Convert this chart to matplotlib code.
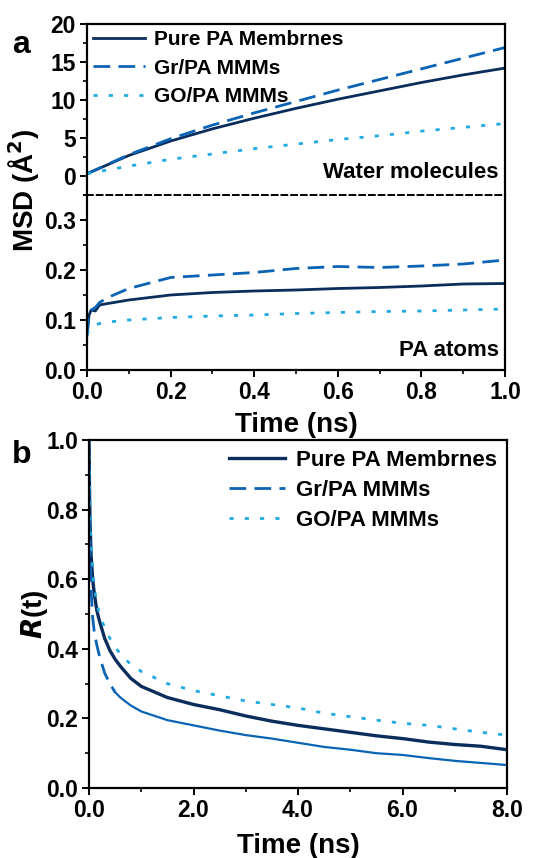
import numpy as np
import matplotlib
matplotlib.use('Agg')
import matplotlib.pyplot as plt
from matplotlib.ticker import MultipleLocator, FormatStrFormatter

plt.rcParams['font.family'] = ['Liberation Sans', 'DejaVu Sans']
plt.rcParams['font.weight'] = 'bold'

# panel a, water molecules MSD
t_w = [0.0, 0.1, 0.2, 0.3, 0.4, 0.5, 0.6, 0.7, 0.8, 0.9, 1.0]
pure_w = [0.3, 2.7, 4.6, 6.2, 7.6, 8.9, 10.1, 11.2, 12.3, 13.3, 14.2]
gr_w = [0.3, 2.8, 4.9, 6.7, 8.3, 9.8, 11.3, 12.7, 14.1, 15.5, 16.9]
go_w = [0.3, 1.3, 2.2, 2.9, 3.6, 4.2, 4.8, 5.3, 5.9, 6.4, 6.9]

# panel a, PA atoms MSD
t_pa = [0.0, 0.005, 0.01, 0.02, 0.03, 0.05, 0.1, 0.2, 0.3, 0.4, 0.5, 0.6, 0.7, 0.8, 0.9, 1.0]
pure_pa = [0.07, 0.11, 0.12, 0.118, 0.13, 0.133, 0.14, 0.15, 0.155, 0.158, 0.16, 0.163, 0.165, 0.168, 0.172, 0.173]
gr_pa = [0.07, 0.11, 0.12, 0.125, 0.135, 0.145, 0.163, 0.185, 0.19, 0.195, 0.203, 0.207, 0.205, 0.208, 0.212, 0.22]
go_pa = [0.07, 0.08, 0.085, 0.09, 0.093, 0.096, 0.10, 0.105, 0.108, 0.11, 0.113, 0.115, 0.117, 0.118, 0.12, 0.122]

# panel b, R(t)
t_r = [0.0, 0.01, 0.02, 0.04, 0.07, 0.1, 0.15, 0.2, 0.3, 0.4, 0.5, 0.6, 0.8, 1.0, 1.5, 2.0, 2.5, 3.0, 3.5,
       4.0, 4.5, 5.0, 5.5, 6.0, 6.5, 7.0, 7.5, 8.0]
pure_r = [1.0, 0.85, 0.76, 0.67, 0.6, 0.56, 0.51, 0.48, 0.43, 0.395, 0.37, 0.35, 0.315, 0.292, 0.26, 0.24,
          0.225, 0.207, 0.192, 0.18, 0.17, 0.16, 0.15, 0.142, 0.132, 0.125, 0.12, 0.11]
gr_r = [1.0, 0.8, 0.68, 0.57, 0.49, 0.45, 0.41, 0.38, 0.33, 0.3, 0.275, 0.26, 0.237, 0.22, 0.195, 0.18,
        0.165, 0.152, 0.142, 0.13, 0.118, 0.11, 0.10, 0.095, 0.086, 0.078, 0.072, 0.066]
go_r = [1.0, 0.9, 0.8, 0.7, 0.62, 0.58, 0.53, 0.5, 0.46, 0.43, 0.405, 0.385, 0.355, 0.335, 0.3, 0.28,
        0.265, 0.25, 0.24, 0.23, 0.215, 0.205, 0.195, 0.186, 0.18, 0.17, 0.16, 0.152]

labels = ['Pure PA Membrnes', 'Gr/PA MMMs', 'GO/PA MMMs']
c_pure = '#0b2d5c'
c_gr = '#0a63b5'
c_go = '#22aae2'

fig = plt.figure(figsize=(5.38, 8.58), dpi=100)
W, H = 538.0, 858.0

def box(l, t, r, b):
    return [l / W, 1 - b / H, (r - l) / W, (b - t) / H]

ax1 = fig.add_axes(box(87, 24, 505, 195))
ax2 = fig.add_axes(box(87, 195, 505, 370))
ax3 = fig.add_axes(box(89, 440, 507, 788))

def style(ax):
    for s in ax.spines.values():
        s.set_linewidth(1.6)
    ax.tick_params(which='major', direction='out', length=5, width=1.4, labelsize=16.5,
                   top=False, right=False, pad=3)
    ax.tick_params(which='minor', direction='out', length=3, width=1.2, top=False, right=False)
    for lab in ax.get_xticklabels() + ax.get_yticklabels():
        lab.set_fontweight('bold')

# upper part
ax1.plot(t_w, pure_w, color=c_pure, lw=2.0, label=labels[0])
ax1.plot(t_w, gr_w, color=c_gr, lw=2.0, dashes=(6, 3), label=labels[1])
ax1.plot(t_w, go_w, color=c_go, lw=2.0, dashes=(1.5, 4), label=labels[2])
ax1.set_xlim(0, 1)
ax1.set_ylim(-2.5, 20)
ax1.yaxis.set_major_locator(MultipleLocator(5))
ax1.yaxis.set_minor_locator(MultipleLocator(2.5))
ax1.set_xticks([])
ax1.spines['bottom'].set_visible(False)
style(ax1)
ax1.text(0.985, 0.13, 'Water molecules', transform=ax1.transAxes, ha='right', va='center',
         fontsize=16, fontweight='bold')
ax1.legend(loc='upper left', frameon=False, handlelength=2.5, handletextpad=0.4,
           borderaxespad=0.1, borderpad=0.2, labelspacing=0.45, prop={'weight': 'bold', 'size': 15})

# lower part
ax2.plot(t_pa, pure_pa, color=c_pure, lw=2.0)
ax2.plot(t_pa, gr_pa, color=c_gr, lw=2.0, dashes=(6, 3))
ax2.plot(t_pa, go_pa, color=c_go, lw=2.0, dashes=(1.5, 4))
ax2.set_xlim(0, 1)
ax2.set_ylim(0, 0.35)
ax2.yaxis.set_major_locator(MultipleLocator(0.1))
ax2.yaxis.set_minor_locator(MultipleLocator(0.05))
ax2.xaxis.set_major_locator(MultipleLocator(0.2))
ax2.xaxis.set_minor_locator(MultipleLocator(0.1))
ax2.yaxis.set_major_formatter(FormatStrFormatter('%.1f'))
ax2.xaxis.set_major_formatter(FormatStrFormatter('%.1f'))
style(ax2)
ax2.spines['top'].set_linestyle((0, (3, 2)))
ax2.spines['top'].set_linewidth(1.4)
ax2.text(0.985, 0.11, 'PA atoms', transform=ax2.transAxes, ha='right', va='center',
         fontsize=16, fontweight='bold')
ax2.set_xlabel('Time (ns)', fontsize=20, fontweight='bold', labelpad=6)

fig.text(0.045, 1 - 190 / H, 'MSD (Å$\\mathbf{^2}$)', rotation=90, ha='center', va='center',
         fontsize=20, fontweight='bold')

# panel b
ax3.plot(t_r, pure_r, color=c_pure, lw=2.4, label=labels[0])
ax3.plot([], [], color=c_gr, lw=2.0, dashes=(6, 3), label=labels[1])
ax3.plot(t_r[:11], gr_r[:11], color=c_gr, lw=2.0, dashes=(6, 3))
ax3.plot(t_r[10:], gr_r[10:], color=c_gr, lw=1.6)
ax3.plot(t_r, go_r, color=c_go, lw=2.0, dashes=(1.5, 4), label=labels[2])
ax3.set_xlim(0, 8)
ax3.set_ylim(0, 1)
ax3.xaxis.set_major_locator(MultipleLocator(2))
ax3.xaxis.set_minor_locator(MultipleLocator(1))
ax3.yaxis.set_major_locator(MultipleLocator(0.2))
ax3.yaxis.set_minor_locator(MultipleLocator(0.1))
ax3.xaxis.set_major_formatter(FormatStrFormatter('%.1f'))
ax3.yaxis.set_major_formatter(FormatStrFormatter('%.1f'))
style(ax3)
ax3.set_xlabel('Time (ns)', fontsize=20, fontweight='bold', labelpad=8)
ax3.set_ylabel('$\\mathbfit{R}$(t)', fontsize=20, fontweight='bold', labelpad=-3)
ax3.legend(loc='upper right', frameon=False, handlelength=2.5, handletextpad=0.5, borderaxespad=0.1,
           borderpad=0.35, labelspacing=0.4, prop={'weight': 'bold', 'size': 16})

fig.text(12 / W, 1 - 45 / H, 'a', fontsize=23, fontweight='bold', ha='left', va='center')
fig.text(12 / W, 1 - 455 / H, 'b', fontsize=23, fontweight='bold', ha='left', va='center')

fig.savefig('out.png', dpi=100)
